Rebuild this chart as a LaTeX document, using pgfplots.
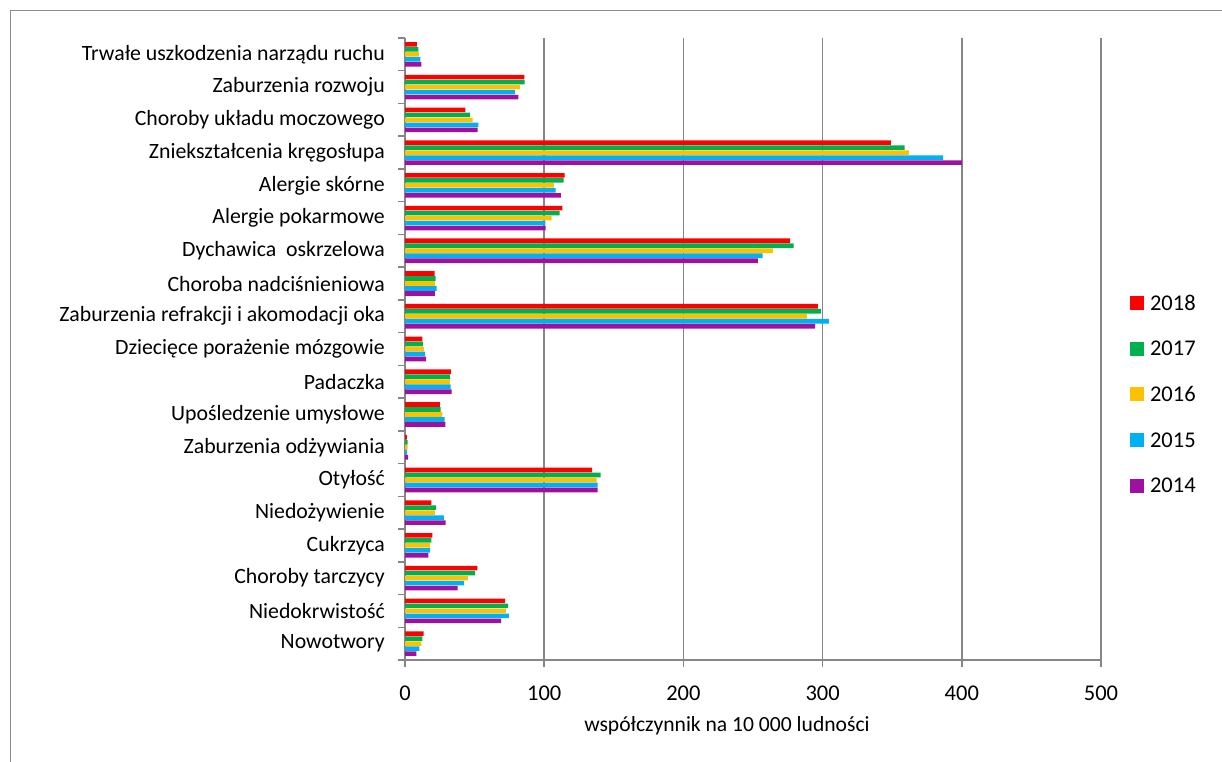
\documentclass[border=0pt]{standalone}
\usepackage{fontspec}
\setmainfont{Carlito}
\usepackage{pgfplots}
\pgfplotsset{compat=1.18}
\definecolor{cA}{RGB}{255,0,0}
\definecolor{cB}{RGB}{0,176,80}
\definecolor{cC}{RGB}{255,192,0}
\definecolor{cD}{RGB}{0,176,240}
\definecolor{cE}{RGB}{160,16,160}
\definecolor{gridgray}{RGB}{134,134,134}
\definecolor{framegray}{RGB}{140,140,140}
\begin{document}
\begin{tikzpicture}[x=1pt,y=1pt]
\path[use as bounding box] (0,0) rectangle (1222,762);
\draw[framegray, line width=1pt] (10,0) -- (10,751) -- (1222,751);
\begin{axis}[
  at={(405pt,102pt)}, anchor=south west,
  scale only axis, width=696pt, height=622pt,
  xmin=0, xmax=500, ymin=-0.5, ymax=18.5, y dir=reverse,
  xbar, bar width=4.6pt,
  axis x line*=bottom, axis y line*=left,
  axis line style={gridgray, line width=1.5pt},
  xtick={0,100,...,500}, xmajorgrids,
  grid style={gridgray, line width=1.5pt},
  ytick={0,...,18},
  minor ytick={-0.5,0.5,...,18.5},
  tick align=outside, major tick length=7pt, minor tick length=7pt,
  major y tick style={draw=none},
  minor y tick style={gridgray, line width=1.5pt},
  major x tick style={gridgray, line width=1.5pt},
  /pgf/number format/assume math mode=true,
  xticklabel style={font=\fontsize{22.5}{27}\selectfont, inner sep=0pt, yshift=-19pt},
  yticklabel style={font=\fontsize{21.8}{25}\selectfont, inner sep=0pt, anchor=east, xshift=-13pt},
  yticklabels={
    {Trwałe uszkodzenia narządu ruchu\hspace{4.9pt}},
    {Zaburzenia rozwoju\hspace{4.9pt}},
    {Choroby układu moczowego\hspace{4.9pt}},
    {Zniekształcenia kręgosłupa},
    {Alergie skórne},
    {Alergie pokarmowe\hspace{4.9pt}},
    {Dychawica\hspace{4.9pt} oskrzelowa\hspace{4.9pt}},
    {Choroba nadciśnieniowa},
    {Zaburzenia refrakcji i akomodacji oka\hspace{4.9pt}},
    {Dziecięce porażenie mózgowie\hspace{4.9pt}},
    {Padaczka},
    {Upośledzenie umysłowe},
    {Zaburzenia odżywiania\hspace{4.9pt}},
    {Otyłość},
    {Niedożywienie},
    {Cukrzyca},
    {Choroby tarczycy\hspace{4.9pt}},
    {Niedokrwistość},
    {Nowotwory}},
  xlabel={współczynnik na 10 000 ludności},
  xlabel style={at={(axis description cs:0.4626,0)}, anchor=base, yshift=-71pt, font=\fontsize{21.6}{25}\selectfont},
  legend style={draw=none, fill=none, inner sep=0pt, outer sep=0pt,
    at={(axis description cs:1.0417,0.5868)}, anchor=north west,
    row sep=30.9pt, nodes={inner sep=0pt, text depth=0pt},
    font=\fontsize{22.5}{27}\selectfont},
  legend cell align=left,
  legend image code/.code={\fill[#1] (0pt,-7pt) rectangle (14pt,7pt); \path (20pt,0pt);},
]
\addplot[fill=cA, draw=none, bar shift=10pt] coordinates {
 (8.6,0) (85.7,1) (43.3,2) (349,3) (114.7,4) (113,5) (276.7,6) (21.3,7) (296.6,8) (12.4,9)
 (33,10) (25.1,11) (1.4,12) (134.5,13) (18.9,14) (19.6,15) (52,16) (72,17) (13.4,18)};
\addplot[fill=cB, draw=none, bar shift=5pt] coordinates {
 (9.6,0) (85.9,1) (46.7,2) (358.9,3) (114,4) (111.1,5) (279.1,6) (22,7) (298.7,8) (12.9,9)
 (32.3,10) (25.6,11) (1.9,12) (140.5,13) (22.3,14) (18.9,15) (50.3,16) (74,17) (12.4,18)};
\addplot[fill=cC, draw=none, bar shift=0pt] coordinates {
 (10,0) (82.6,1) (48.6,2) (362.2,3) (107,4) (105.3,5) (264.3,6) (21.5,7) (288.9,8) (13.6,9)
 (32.3,10) (26.8,11) (1.9,12) (137.7,13) (21.5,14) (18,15) (45.2,16) (72.5,17) (11.7,18)};
\addplot[fill=cD, draw=none, bar shift=-5pt] coordinates {
 (11,0) (79,1) (52.7,2) (386.6,3) (108.2,4) (100.8,5) (256.9,6) (22.7,7) (304.5,8) (14.4,9)
 (32.8,10) (28.5,11) (1.6,12) (138.3,13) (28,14) (18,15) (42.4,16) (74.7,17) (10.3,18)};
\addplot[fill=cE, draw=none, bar shift=-10pt] coordinates {
 (11.7,0) (81.4,1) (52.2,2) (400,3) (112,4) (101,5) (253.5,6) (21.5,7) (294.7,8) (15.1,9)
 (33.5,10) (29,11) (2.2,12) (138.3,13) (29.2,14) (16.8,15) (37.8,16) (69,17) (8.1,18)};
\legend{2018,2017,2016,2015,2014}
\end{axis}
\end{tikzpicture}
\end{document}
